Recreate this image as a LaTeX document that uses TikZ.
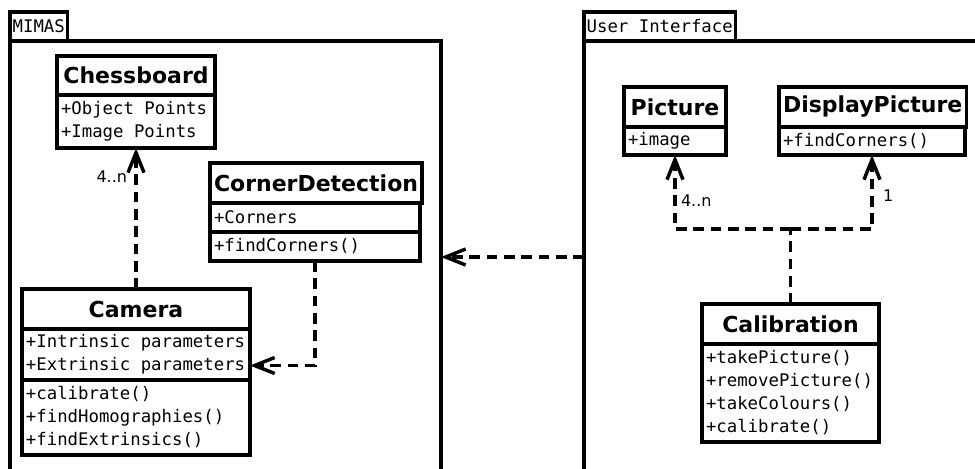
\documentclass[tikz,border=0pt]{standalone}
\usepackage{fontspec}
\setmainfont{DejaVu Sans}
\setmonofont{DejaVu Sans Mono}
\usetikzlibrary{arrows.meta,calc}
\begin{document}
\begin{tikzpicture}[x=0.75pt,y=-0.75pt,
  every node/.style={line width=2.6pt, outer sep=0pt},
  box/.style={draw, anchor=north west, inner xsep=3pt, inner ysep=1pt},
  ttl/.style={box, font=\fontsize{16.5}{20}\selectfont\bfseries, align=center},
  cmp/.style={box, font=\ttfamily\fontsize{13}{17.25}\selectfont, align=flush left},
  pkgtab/.style={draw, anchor=north west, inner xsep=2pt, inner ysep=0pt, minimum height=21.75pt, font=\ttfamily\fontsize{13}{16}\selectfont},
  pkgbody/.style={draw, anchor=north west, minimum height=324pt},
  dep/.style={line width=2.6pt, dash pattern=on 8pt off 5pt, -{Straight Barb[length=15pt,width=12pt]}},
  depline/.style={line width=2.6pt, dash pattern=on 8pt off 5pt},
  mult/.style={inner sep=0pt, font=\fontsize{12}{14}\selectfont}]
\useasboundingbox (0,0) rectangle (975,468);
\clip (0,0) rectangle (975,468);
\fill[white] (0,0) rectangle (975,468);

% packages
\node[pkgtab] (mimastab) at (10,12) {MIMAS};
\node[pkgbody, minimum width=323.25pt] (mimas) at (10,41) {};
\node[pkgtab] (uitab) at (584,12) {User Interface};
\node[pkgbody, minimum width=315pt] (ui) at (584,41) {};

% Chessboard
\node[ttl, minimum width=118.5pt, minimum height=29.25pt] (chess) at (57,56) {Chessboard};
\node[cmp, minimum width=118.5pt, text width=112.5pt, minimum height=39.75pt] (chessattr) at (chess.south west) {+Object Points\\+Image Points};

% CornerDetection
\node[ttl, minimum width=157.5pt, minimum height=30pt] (cd) at (210,163) {CornerDetection};
\node[cmp, minimum width=157.5pt, text width=151.5pt, minimum height=21.75pt] (cdattr) at (cd.south west) {+Corners};
\node[cmp, minimum width=157.5pt, text width=151.5pt, minimum height=21.75pt] (cdops) at (cdattr.south west) {+findCorners()};

% Camera
\node[ttl, minimum width=171pt, minimum height=30pt] (cam) at (22,289) {Camera};
\node[cmp, minimum width=171pt, text width=165pt, minimum height=38.25pt] (camattr) at (cam.south west) {+Intrinsic parameters\\+Extrinsic parameters};
\node[cmp, minimum width=171pt, text width=165pt, minimum height=56.25pt] (camops) at (camattr.south west) {+calibrate()\\+findHomographies()\\+findExtrinsics()};

% Picture
\node[ttl, minimum width=76.5pt, minimum height=30pt] (pic) at (624,87) {Picture};
\node[cmp, minimum width=76.5pt, text width=70.5pt, minimum height=21pt] (picattr) at (pic.south west) {+image};

% DisplayPicture
\node[ttl, minimum width=139.5pt, minimum height=30pt] (dp) at (779,87) {DisplayPicture};
\node[cmp, minimum width=139.5pt, text width=133.5pt, minimum height=21pt] (dpops) at (dp.south west) {+findCorners()};

% Calibration
\node[ttl, minimum width=132.75pt, minimum height=30pt] (cal) at (702,304) {Calibration};
\node[cmp, minimum width=132.75pt, text width=126.75pt, minimum height=73.5pt] (calops) at (cal.south west) {+takePicture()\\+removePicture()\\+takeColours()\\+calibrate()};

% connectors
\draw[dep] (ui.west) -- (mimas.east);
\draw[dep] (cam.north) -- (chessattr.south);
\draw[dep] (cdops.south) |- ($(camattr.east)+(0,11)$);
\draw[depline] (cal.north) -- ++(0,-75) coordinate (j);
\draw[dep] (j) -| (picattr.south);
\draw[dep] (j) -| (dpops.south);

% multiplicities
\node[mult, anchor=east] (m1) at (127,177) {4..n};
\node[mult, anchor=west] (m2) at (681,201) {4..n};
\node[mult, anchor=west] (m3) at (883,196) {1};
\end{tikzpicture}
\end{document}
